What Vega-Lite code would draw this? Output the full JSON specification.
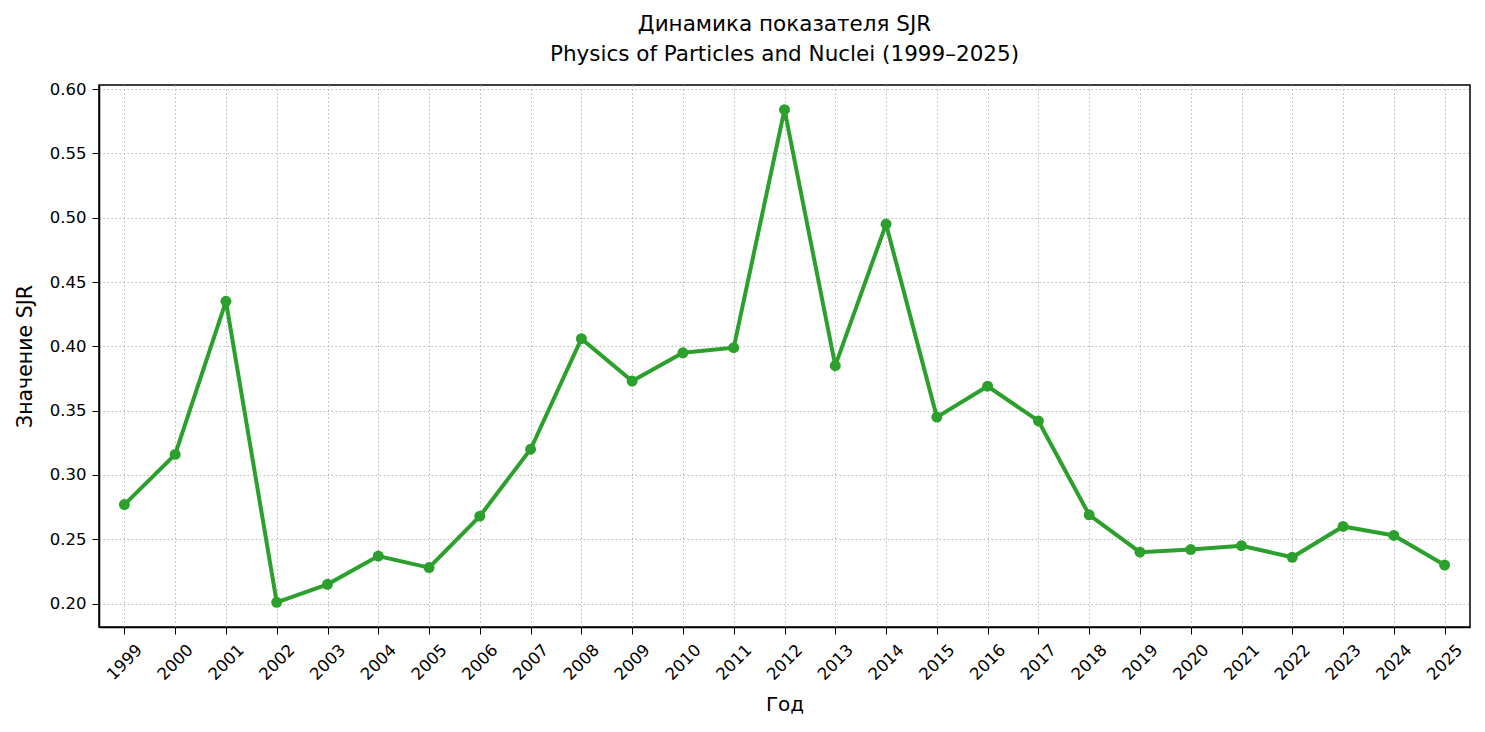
{
  "$schema": "https://vega.github.io/schema/vega-lite/v6.json",
  "autosize": {"type": "none"},
  "width": 1371,
  "height": 542,
  "padding": {"left": 99, "top": 85, "right": 15, "bottom": 105},
  "background": "white",
  "title": {
    "text": ["Динамика показателя SJR", "Physics of Particles and Nuclei (1999–2025)"],
    "anchor": "middle",
    "frame": "group",
    "font": "DejaVu Sans",
    "fontSize": 21.5,
    "fontWeight": "normal",
    "color": "black",
    "lineHeight": 30,
    "offset": 16
  },
  "data": {
    "values": [
      {"year": "1999", "sjr": 0.277},
      {"year": "2000", "sjr": 0.316},
      {"year": "2001", "sjr": 0.435},
      {"year": "2002", "sjr": 0.201},
      {"year": "2003", "sjr": 0.215},
      {"year": "2004", "sjr": 0.237},
      {"year": "2005", "sjr": 0.228},
      {"year": "2006", "sjr": 0.268},
      {"year": "2007", "sjr": 0.320},
      {"year": "2008", "sjr": 0.406},
      {"year": "2009", "sjr": 0.373},
      {"year": "2010", "sjr": 0.395},
      {"year": "2011", "sjr": 0.399},
      {"year": "2012", "sjr": 0.584},
      {"year": "2013", "sjr": 0.385},
      {"year": "2014", "sjr": 0.495},
      {"year": "2015", "sjr": 0.345},
      {"year": "2016", "sjr": 0.369},
      {"year": "2017", "sjr": 0.342},
      {"year": "2018", "sjr": 0.269},
      {"year": "2019", "sjr": 0.240},
      {"year": "2020", "sjr": 0.242},
      {"year": "2021", "sjr": 0.245},
      {"year": "2022", "sjr": 0.236},
      {"year": "2023", "sjr": 0.260},
      {"year": "2024", "sjr": 0.253},
      {"year": "2025", "sjr": 0.230}
    ]
  },
  "mark": {
    "type": "line",
    "color": "#2ca02c",
    "strokeWidth": 4,
    "point": {"filled": true, "size": 120, "color": "#2ca02c", "opacity": 1}
  },
  "encoding": {
    "x": {
      "field": "year",
      "type": "ordinal",
      "scale": {"type": "point", "padding": 0.5},
      "axis": {
        "title": "Год",
        "titleFont": "DejaVu Sans",
        "titleFontSize": 20,
        "titleFontWeight": "normal",
        "titleColor": "black",
        "titlePadding": 12,
        "labelFont": "DejaVu Sans",
        "labelFontSize": 16.5,
        "labelColor": "black",
        "labelAngle": -45,
        "labelAlign": "center",
        "labelBaseline": "middle",
        "labelPadding": 28,
        "tickSize": 7,
        "tickColor": "black",
        "domainColor": "black",
        "domainWidth": 1.5,
        "grid": true,
        "gridColor": "#b8b8b8",
        "gridDash": [1.5, 2.5],
        "gridWidth": 1
      }
    },
    "y": {
      "field": "sjr",
      "type": "quantitative",
      "scale": {"domain": [0.1818, 0.6032], "nice": false, "zero": false},
      "axis": {
        "title": "Значение SJR",
        "titleFont": "DejaVu Sans",
        "titleFontSize": 20.5,
        "titleFontWeight": "normal",
        "titleColor": "black",
        "titlePadding": 14,
        "values": [0.2, 0.25, 0.3, 0.35, 0.4, 0.45, 0.5, 0.55, 0.6],
        "format": ".2f",
        "labelFont": "DejaVu Sans",
        "labelFontSize": 16.5,
        "labelColor": "black",
        "labelPadding": 6,
        "tickSize": 7,
        "tickColor": "black",
        "domainColor": "black",
        "domainWidth": 1.5,
        "grid": true,
        "gridColor": "#b8b8b8",
        "gridDash": [1.5, 2.5],
        "gridWidth": 1
      }
    }
  },
  "config": {
    "view": {"stroke": "black", "strokeWidth": 1.5}
  }
}
